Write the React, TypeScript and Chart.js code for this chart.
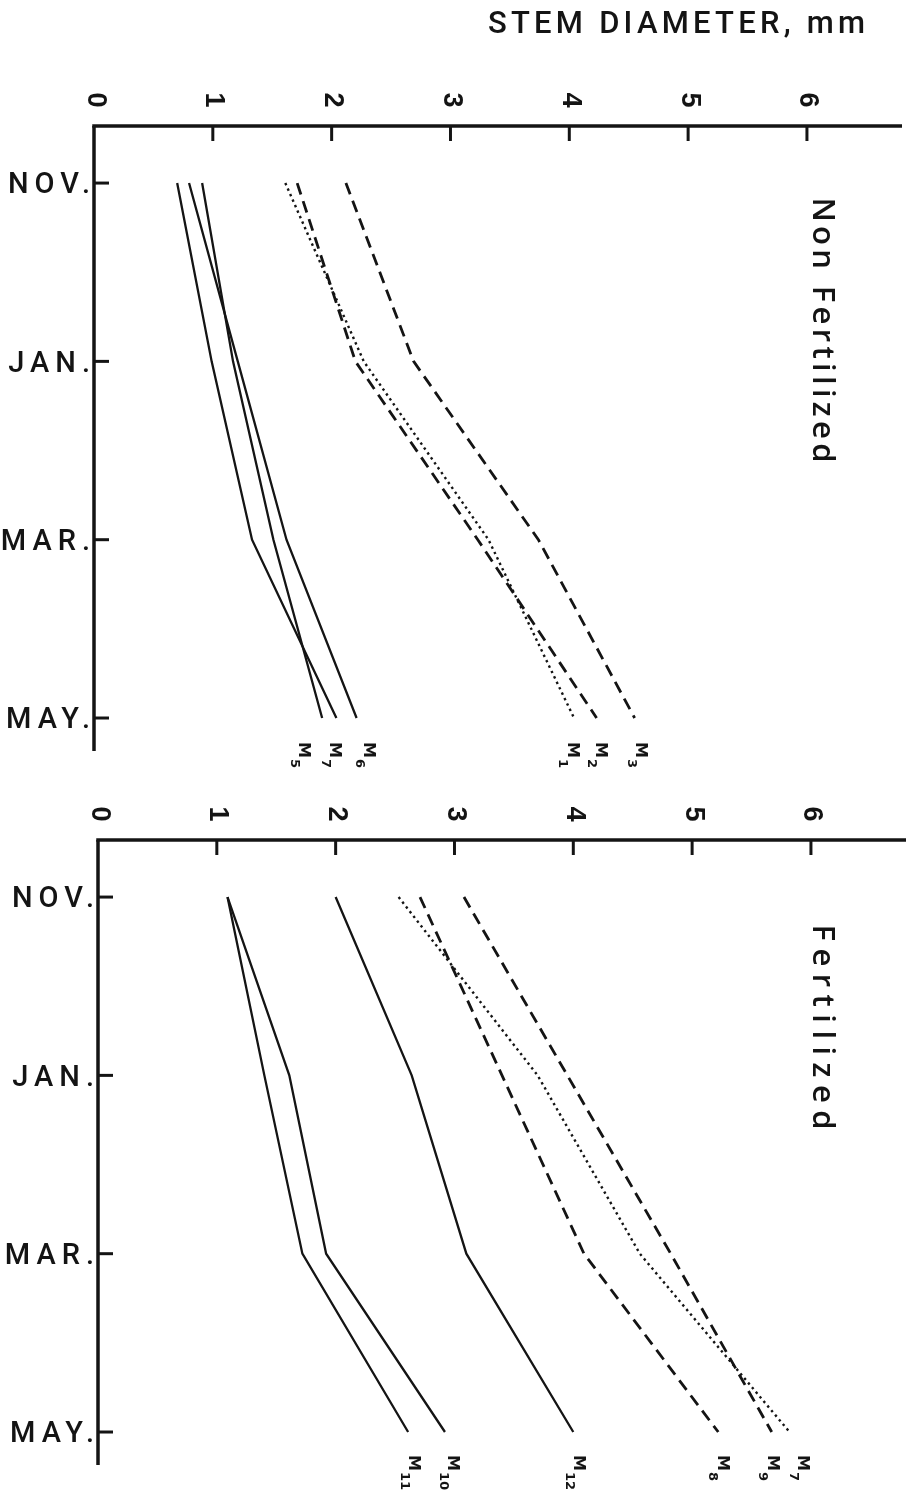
import React, { useEffect, useRef } from "react";
import { Chart, registerables } from "chart.js";

Chart.register(...registerables);

// ---------- data ----------
const months = ["NOV.", "JAN.", "MAR.", "MAY."];
const diameterTicks = [0, 1, 2, 3, 4, 5, 6];
const axisTitle = "STEM DIAMETER, mm";

// Non Fertilized (stem diameter, mm) at NOV, JAN, MAR, MAY
const nfM1 = [1.61, 2.27, 3.32, 4.04];
const nfM2 = [1.71, 2.2, 3.23, 4.23];
const nfM3 = [2.12, 2.69, 3.74, 4.55];
const nfM5 = [0.91, 1.17, 1.51, 1.92];
const nfM6 = [0.8, 1.21, 1.62, 2.21];
const nfM7 = [0.7, 0.99, 1.33, 2.04];

// Fertilized
const fM7 = [2.53, 3.7, 4.56, 5.82];
const fM8 = [2.71, 3.4, 4.09, 5.22];
const fM9 = [3.08, 3.95, 4.82, 5.67];
const fM10 = [1.09, 1.61, 1.92, 2.92];
const fM11 = [1.09, 1.4, 1.72, 2.61];
const fM12 = [2.0, 2.64, 3.1, 4.0];

// where the series labels sit along the diameter axis
const nfLabelNames = ["1", "2", "3", "5", "7", "6"];
const nfLabelAt = [4.02, 4.26, 4.6, 1.76, 2.02, 2.31];
const fLabelNames = ["7", "8", "9", "10", "11", "12"];
const fLabelAt = [5.93, 5.25, 5.67, 2.98, 2.65, 4.04];

const INK = "#141414";

type Kind = "solid" | "dashed" | "dotted";
type Series = { sub: string; values: number[]; kind: Kind; labelAt: number };

type PanelCfg = {
  name: string;
  nameLen: number;
  nameDx: number;
  nameDy: number;
  series: Series[];
  padding: { left: number; right: number; top: number; bottom: number };
  height: number;
  top: number;
  labelDy: number;
  showTitle: boolean;
};

const nfSeries: Series[] = [
  { sub: nfLabelNames[0], values: nfM1, kind: "dotted", labelAt: nfLabelAt[0] },
  { sub: nfLabelNames[1], values: nfM2, kind: "dashed", labelAt: nfLabelAt[1] },
  { sub: nfLabelNames[2], values: nfM3, kind: "dashed", labelAt: nfLabelAt[2] },
  { sub: nfLabelNames[3], values: nfM5, kind: "solid", labelAt: nfLabelAt[3] },
  { sub: nfLabelNames[4], values: nfM7, kind: "solid", labelAt: nfLabelAt[4] },
  { sub: nfLabelNames[5], values: nfM6, kind: "solid", labelAt: nfLabelAt[5] },
];

const fSeries: Series[] = [
  { sub: fLabelNames[0], values: fM7, kind: "dotted", labelAt: fLabelAt[0] },
  { sub: fLabelNames[1], values: fM8, kind: "dashed", labelAt: fLabelAt[1] },
  { sub: fLabelNames[2], values: fM9, kind: "dashed", labelAt: fLabelAt[2] },
  { sub: fLabelNames[3], values: fM10, kind: "solid", labelAt: fLabelAt[3] },
  { sub: fLabelNames[4], values: fM11, kind: "solid", labelAt: fLabelAt[4] },
  { sub: fLabelNames[5], values: fM12, kind: "solid", labelAt: fLabelAt[5] },
];

const panels: PanelCfg[] = [
  {
    name: "Non Fertilized",
    nameLen: 265,
    nameDx: -80,
    nameDy: 204,
    series: nfSeries,
    padding: { left: 94, right: 4, top: 126, bottom: 39 },
    height: 790,
    top: 0,
    labelDy: -1,
    showTitle: true,
  },
  {
    name: "Fertilized",
    nameLen: 205,
    nameDx: -84,
    nameDy: 187,
    series: fSeries,
    padding: { left: 98, right: 0, top: 50, bottom: 33 },
    height: 708,
    top: 790,
    labelDy: -2,
    showTitle: false,
  },
];

function styleFor(kind: Kind) {
  if (kind === "solid") return { borderWidth: 2.3, borderDash: [] as number[] };
  if (kind === "dashed") return { borderWidth: 2.8, borderDash: [12, 7] };
  return { borderWidth: 2.4, borderDash: [2.4, 3.6] };
}

function drawSpaced(ctx: CanvasRenderingContext2D, text: string, left: number, y: number, target: number) {
  (ctx as any).letterSpacing = "0px";
  const w = ctx.measureText(text).width;
  const sp = (target - w) / Math.max(1, text.length - 1);
  (ctx as any).letterSpacing = sp + "px";
  ctx.textAlign = "left";
  ctx.fillText(text, left, y);
  (ctx as any).letterSpacing = "0px";
}

function decorPlugin(cfg: PanelCfg) {
  return {
    id: "decor",
    afterDraw(chart: any) {
      const { ctx, chartArea: a } = chart;
      const x = chart.scales.x;
      const y = chart.scales.y;
      ctx.save();
      ctx.strokeStyle = INK;
      ctx.fillStyle = INK;
      ctx.setLineDash([]);

      // axes
      ctx.lineWidth = 3.5;
      ctx.lineCap = "butt";
      ctx.beginPath();
      ctx.moveTo(a.left - 1.75, a.top);
      ctx.lineTo(a.right, a.top);
      ctx.stroke();
      ctx.beginPath();
      ctx.moveTo(a.left, a.top);
      ctx.lineTo(a.left, a.bottom);
      ctx.stroke();

      // tick marks
      ctx.lineWidth = 3;
      diameterTicks.forEach((v) => {
        if (v === 0) return;
        const px = x.getPixelForValue(v);
        ctx.beginPath();
        ctx.moveTo(px, a.top);
        ctx.lineTo(px, a.top + 15);
        ctx.stroke();
      });
      months.forEach((_, i) => {
        const py = y.getPixelForValue(i);
        ctx.beginPath();
        ctx.moveTo(a.left, py);
        ctx.lineTo(a.left + 15, py);
        ctx.stroke();
      });

      // diameter tick labels (rotated, as in the original figure)
      ctx.font = 'bold 27px "Liberation Sans", Arial, sans-serif';
      ctx.textAlign = "center";
      ctx.textBaseline = "middle";
      diameterTicks.forEach((v) => {
        const px = x.getPixelForValue(v);
        ctx.save();
        ctx.translate(px + 1, a.top - 26);
        ctx.rotate(Math.PI / 2);
        ctx.fillText(String(v), 0, 0);
        ctx.restore();
      });

      // month labels (letter spacing chosen so "NOV." spans ~82px)
      ctx.font = '500 29px Roboto, "Liberation Sans", sans-serif';
      (ctx as any).letterSpacing = "0px";
      const ref = months[0];
      const sp = Math.max(0, (82 - ctx.measureText(ref).width) / (ref.length - 1));
      (ctx as any).letterSpacing = sp + "px";
      ctx.textAlign = "right";
      months.forEach((m, i) => {
        const py = y.getPixelForValue(i);
        ctx.fillText(m, a.left - 4 + sp, py + 3);
      });
      (ctx as any).letterSpacing = "0px";

      // series labels  M with subscript, rotated
      cfg.series.forEach((s) => {
        const px = x.getPixelForValue(s.labelAt);
        const py = a.bottom + cfg.labelDy;
        ctx.save();
        ctx.translate(px, py);
        ctx.rotate(Math.PI / 2);
        ctx.font = 'bold 16px "DejaVu Sans", sans-serif';
        ctx.textAlign = "center";
        ctx.textBaseline = "middle";
        const wM = ctx.measureText("M").width;
        ctx.fillText("M", 0, 0);
        ctx.font = 'bold 13px "DejaVu Sans", sans-serif';
        ctx.textAlign = "left";
        ctx.fillText(s.sub, wM / 2 + 1, 9);
        ctx.restore();
      });

      // panel name, rotated
      ctx.save();
      ctx.translate(a.right + cfg.nameDx, a.top + cfg.nameDy);
      ctx.rotate(Math.PI / 2);
      ctx.font = '600 31px "Open Sans", "DejaVu Sans", sans-serif';
      ctx.textBaseline = "middle";
      drawSpaced(ctx, cfg.name, -cfg.nameLen / 2, 0, cfg.nameLen);
      ctx.restore();

      // axis title
      if (cfg.showTitle) {
        ctx.font = '500 31px Roboto, "Liberation Sans", sans-serif';
        ctx.textBaseline = "middle";
        drawSpaced(ctx, axisTitle, 488, 25, 377);
      }
      ctx.restore();
    },
  };
}

function Panel({ cfg }: { cfg: PanelCfg }) {
  const ref = useRef<HTMLCanvasElement | null>(null);
  useEffect(() => {
    if (!ref.current) return;
    const datasets = cfg.series.map((s) => ({
      label: "M" + s.sub,
      data: s.values.map((v, i) => ({ x: v, y: i })),
      borderColor: INK,
      backgroundColor: INK,
      pointRadius: 0,
      showLine: true,
      tension: 0,
      fill: false,
      borderCapStyle: "butt" as const,
      ...styleFor(s.kind),
    }));
    const chart = new Chart(ref.current, {
      type: "scatter",
      data: { datasets },
      options: {
        animation: false,
        responsive: false,
        devicePixelRatio: 1,
        events: [],
        layout: { padding: cfg.padding },
        plugins: {
          legend: { display: false },
          tooltip: { enabled: false },
        },
        scales: {
          x: { type: "linear", position: "top", min: 0, max: 6.8, display: false },
          y: { type: "linear", reverse: true, min: -0.32, max: 3.185, display: false },
        },
      },
      plugins: [decorPlugin(cfg)],
    } as any);
    return () => chart.destroy();
  }, [cfg]);
  return (
    <canvas
      ref={ref}
      width={906}
      height={cfg.height}
      style={{ position: "absolute", left: 0, top: cfg.top, width: 906, height: cfg.height }}
    />
  );
}

export default function App() {
  return (
    <div style={{ position: "absolute", left: 0, top: 0, width: 906, height: 1498, background: "#fff", overflow: "hidden" }}>
      {panels.map((p) => (
        <Panel key={p.name} cfg={p} />
      ))}
    </div>
  );
}
